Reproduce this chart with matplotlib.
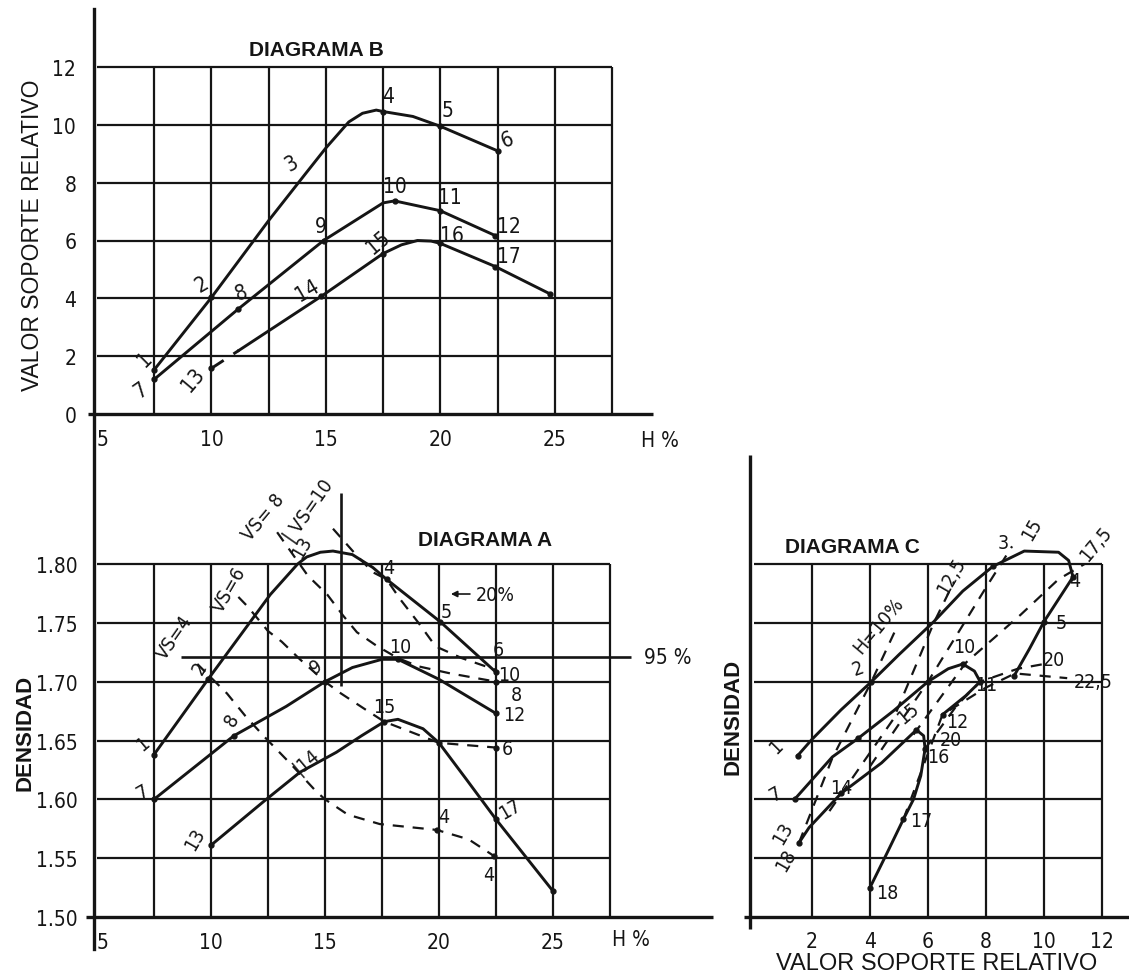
import matplotlib

matplotlib.use("Agg")
import matplotlib.pyplot as plt
from matplotlib import font_manager
from matplotlib.lines import Line2D

W, H = 1129, 979

# ---- Diagrama B: humedad H% vs valor soporte relativo ----
b_hum_1 = [7.5, 10.0, 12.5, 14.1, 15.0, 16.0, 16.6, 17.2, 17.5, 18.8, 20.0, 22.5]
b_vs_1 = [1.53, 4.03, 6.69, 8.3, 9.2, 10.1, 10.4, 10.51, 10.46, 10.29, 9.95, 9.1]
b_hum_2 = [7.5, 11.17, 14.9, 17.5, 18.0, 20.0, 22.4]
b_vs_2 = [1.2, 3.63, 6.0, 7.3, 7.37, 7.03, 6.17]
b_hum_3 = [10.0, 11.2, 14.8, 17.5, 18.3, 19.0, 19.6, 20.0, 22.4, 24.8]
b_vs_3 = [1.58, 2.2, 4.07, 5.55, 5.85, 6.0, 5.98, 5.9, 5.1, 4.15]

# ---- Diagrama A: humedad H% vs densidad ----
a_hum_1 = [7.5, 9.87, 12.6, 13.8, 14.2, 14.8, 15.35, 16.2, 17.1, 17.7, 20.05, 22.5]
a_den_1 = [1.638, 1.702, 1.774, 1.800, 1.806, 1.810, 1.811, 1.808, 1.797, 1.787, 1.751, 1.708]
a_hum_2 = [7.5, 11.0, 13.3, 15.0, 16.2, 17.5, 18.2, 20.0, 22.5]
a_den_2 = [1.600, 1.654, 1.679, 1.700, 1.712, 1.719, 1.719, 1.702, 1.673]
a_hum_3 = [10.0, 12.3, 13.9, 15.5, 16.6, 17.6, 18.2, 19.3, 20.0, 21.2, 22.5, 25.0]
a_den_3 = [1.561, 1.598, 1.623, 1.640, 1.654, 1.666, 1.668, 1.660, 1.648, 1.617, 1.583, 1.522]

# lineas de igual valor soporte (trazos)
a_vs4_hum = [9.4, 10.7, 11.5, 12.3, 13.5, 14.6, 15.0, 16.0, 17.4, 19.9, 21.3, 22.4]
a_vs4_den = [1.715, 1.690, 1.671, 1.654, 1.630, 1.607, 1.600, 1.587, 1.579, 1.574, 1.566, 1.552]
a_vs6_hum = [11.2, 11.6, 12.5, 13.1, 13.9, 15.0, 15.7, 16.8, 17.6, 18.8, 20.0, 22.5]
a_vs6_den = [1.772, 1.764, 1.743, 1.734, 1.719, 1.700, 1.690, 1.676, 1.666, 1.657, 1.648, 1.644]
a_vs8_hum = [12.9, 14.25, 15.1, 15.8, 16.4, 17.3, 18.2, 19.1, 20.5, 22.5]
a_vs8_den = [1.827, 1.790, 1.774, 1.756, 1.742, 1.730, 1.720, 1.713, 1.707, 1.700]
a_vs10_hum = [15.35, 16.4, 17.1, 17.7, 18.3, 19.1, 19.85, 21.0, 22.5]
a_vs10_den = [1.830, 1.807, 1.793, 1.787, 1.770, 1.750, 1.730, 1.720, 1.710]
a_line_95 = 1.721
a_line_opt = 15.7

# ---- Diagrama C: valor soporte relativo vs densidad ----
c_vs_1 = [1.5, 2.0, 3.0, 4.05, 5.0, 6.2, 7.2, 8.24, 9.32, 10.5, 10.85, 11.0, 10.5, 10.0, 9.5, 8.97]
c_den_1 = [1.637, 1.651, 1.676, 1.700, 1.723, 1.751, 1.777, 1.798, 1.811, 1.810, 1.803, 1.789,
           1.770, 1.751, 1.728, 1.705]
c_vs_2 = [1.4, 2.7, 3.6, 4.8, 6.0, 6.7, 7.2, 7.6, 7.8, 7.3, 6.8, 6.5]
c_den_2 = [1.600, 1.636, 1.652, 1.675, 1.700, 1.711, 1.715, 1.709, 1.700, 1.688, 1.678, 1.672]
c_vs_3 = [1.55, 1.9, 3.0, 4.4, 5.0, 5.6, 5.85, 5.9, 5.75, 5.5, 5.15, 4.6, 4.0]
c_den_3 = [1.563, 1.576, 1.605, 1.631, 1.645, 1.659, 1.654, 1.643, 1.620, 1.600, 1.583, 1.555, 1.525]

# lineas de igual humedad (trazos)
c_h10_vs = [1.55, 2.7, 4.05, 4.9]
c_h10_den = [1.563, 1.635, 1.700, 1.745]
c_h125_vs = [2.6, 4.8, 6.2, 6.9]
c_h125_den = [1.590, 1.668, 1.750, 1.785]
c_h15_vs = [4.0, 6.0, 8.0, 8.9]
c_h15_den = [1.628, 1.700, 1.780, 1.815]
c_h175_vs = [5.5, 7.3, 9.2, 10.5, 11.4]
c_h175_den = [1.655, 1.716, 1.757, 1.787, 1.800]
c_h20_vs = [5.9, 7.0, 7.8, 9.1, 10.0]
c_h20_den = [1.643, 1.680, 1.700, 1.711, 1.715]
c_h225_vs = [5.15, 6.5, 8.0, 9.0, 10.8]
c_h225_den = [1.583, 1.672, 1.695, 1.707, 1.703]

INK = "#151515"
DASH = (0, (5, 4))

# narrow hand-lettered numerals: use a narrow face when one is installed
_faces = {(f.name, f.stretch) for f in font_manager.fontManager.ttflist}
if any(name == "Liberation Sans Narrow" for name, _ in _faces):
    NUM = dict(family="Liberation Sans Narrow")
elif ("DejaVu Sans", "condensed") in _faces or ("DejaVu Sans", 300) in _faces:
    NUM = dict(family="DejaVu Sans", stretch="condensed")
else:
    NUM = dict(family="Liberation Sans")
BOLD = dict(family="Liberation Sans", weight="bold")

fig = plt.figure(figsize=(W / 100, H / 100), dpi=100)
fig.patch.set_facecolor("white")


def axes_px(left, top, right, bottom):
    return fig.add_axes([left / W, 1 - bottom / H, (right - left) / W, (bottom - top) / H])


def fig_text(x, y, s, **kw):
    fig.text(x / W, 1 - y / H, s, color=INK, ha="center", va="center", **kw)


def paper(ax, xlim, ylim, xgrid, ygrid):
    ax.set_xlim(*xlim)
    ax.set_ylim(*ylim)
    ax.patch.set_alpha(0)
    for spine in ax.spines.values():
        spine.set_visible(False)
    ax.vlines(xgrid, ylim[0], ylim[1], color=INK, lw=1.6, clip_on=False)
    ax.hlines(ygrid, xlim[0], xlim[1], color=INK, lw=1.6, clip_on=False)
    ax.tick_params(which="both", length=0, labelsize=15, colors=INK)


def labels(ax, items, size=14):
    for s, x, y, rot in items:
        ax.text(x, y, s, fontsize=size, rotation=rot, ha="center", va="center",
                color=INK, clip_on=False, **NUM)


# long left spine shared by diagrams B and A
fig.add_artist(Line2D([94 / W, 94 / W], [1 - 10 / H, 1 - 950 / H], color=INK, lw=2.4))

# ================= Diagrama B =================
ax_b = axes_px(97, 68, 612, 415)
paper(ax_b, (5, 27.5), (0, 12), [7.5, 10, 12.5, 15, 17.5, 20, 22.5, 25, 27.5], [2, 4, 6, 8, 10, 12])
ax_b.hlines(0, 4.6, 29.3, color=INK, lw=2.4, clip_on=False)
ax_b.set_xticks([5, 10, 15, 20, 25])
ax_b.set_xticklabels(["5", "10", "15", "20", "25"], **NUM)
ax_b.set_yticks([0, 2, 4, 6, 8, 10, 12])
ax_b.set_yticklabels(["0", "2", "4", "6", "8", "10", "12"], **NUM)
ax_b.tick_params(axis="x", pad=11)
ax_b.tick_params(axis="y", pad=15)
ax_b.get_xticklabels()[0].set_ha("left")

ax_b.plot(b_hum_1, b_vs_1, color=INK, lw=2.1, marker="o", ms=3.5, markevery=[0, 1, 8, 10, 11])
ax_b.plot(b_hum_2, b_vs_2, color=INK, lw=2.1, marker="o", ms=3.5, markevery=[0, 1, 2, 4, 5, 6])
ax_b.plot(b_hum_3[:2], b_vs_3[:2], color=INK, lw=2.1, ls=DASH, marker="o", ms=3.5, markevery=[0])
ax_b.plot(b_hum_3[1:], b_vs_3[1:], color=INK, lw=2.1, marker="o", ms=3.5, markevery=[1, 2, 6, 7, 8])

labels(ax_b, [
    ("1", 7.1, 1.9, 45), ("7", 6.9, 0.85, 35), ("13", 9.2, 1.2, 50), ("2", 9.6, 4.5, 30),
    ("8", 11.3, 4.2, 20), ("3", 13.5, 8.7, 30), ("9", 14.8, 6.5, 0), ("14", 14.2, 4.3, 30),
    ("15", 17.3, 5.95, 40), ("4", 17.7, 11.0, 0), ("5", 20.3, 10.5, 0), ("6", 22.9, 9.5, 20),
    ("10", 18.0, 7.9, 0), ("11", 20.4, 7.5, 0), ("12", 23.0, 6.5, 0), ("16", 20.5, 6.2, 0),
    ("17", 23.0, 5.45, 0),
], size=15)
ax_b.text(14.6, 12.6, "DIAGRAMA B", fontsize=15, ha="center", va="center", color=INK, **BOLD)
ax_b.text(29.6, -0.9, "H %", fontsize=15, ha="center", va="center", color=INK, **NUM)
fig_text(33, 235, "VALOR SOPORTE RELATIVO", rotation=90, fontsize=16.5, family="Liberation Sans")

# ================= Diagrama A =================
ax_a = axes_px(97, 565, 610, 918)
paper(ax_a, (5, 27.5), (1.50, 1.80), [7.5, 10, 12.5, 15, 17.5, 20, 22.5, 25, 27.5],
      [1.55, 1.60, 1.65, 1.70, 1.75, 1.80])
ax_a.hlines(1.50, 4.5, 32.0, color=INK, lw=2.4, clip_on=False)
ax_a.set_xticks([5, 10, 15, 20, 25])
ax_a.set_xticklabels(["5", "10", "15", "20", "25"], **NUM)
ax_a.set_yticks([1.50, 1.55, 1.60, 1.65, 1.70, 1.75, 1.80])
ax_a.set_yticklabels(["1.50", "1.55", "1.60", "1.65", "1.70", "1.75", "1.80"], **NUM)
ax_a.tick_params(axis="x", pad=11)
ax_a.tick_params(axis="y", pad=14)
ax_a.get_xticklabels()[0].set_ha("left")

ax_a.hlines(a_line_95, 8.7, 28.4, color=INK, lw=1.9, clip_on=False)
ax_a.vlines(a_line_opt, 1.696, 1.86, color=INK, lw=1.9, clip_on=False)

ax_a.plot(a_hum_1, a_den_1, color=INK, lw=2.1, marker="o", ms=3.5, markevery=[0, 1, 9, 10, 11],
          clip_on=False)
ax_a.plot(a_hum_2, a_den_2, color=INK, lw=2.1, marker="o", ms=3.5, markevery=[0, 1, 3, 6, 8],
          clip_on=False)
ax_a.plot(a_hum_3, a_den_3, color=INK, lw=2.1, marker="o", ms=3.5, markevery=[0, 5, 8, 10, 11],
          clip_on=False)
for xs, ys in [(a_vs4_hum, a_vs4_den), (a_vs6_hum, a_vs6_den),
               (a_vs8_hum, a_vs8_den), (a_vs10_hum, a_vs10_den)]:
    ax_a.plot(xs, ys, color=INK, lw=1.6, ls=DASH, clip_on=False)
ax_a.plot([a_vs4_hum[-1], a_vs4_hum[-3], a_vs6_hum[-1], a_vs8_hum[-1]],
          [a_vs4_den[-1], a_vs4_den[-3], a_vs6_den[-1], a_vs8_den[-1]],
          ls="none", marker="o", ms=3.5, color=INK)

labels(ax_a, [
    ("VS=4", 8.4, 1.738, 55), ("VS=6", 10.8, 1.779, 60), ("VS= 8", 12.3, 1.840, 50),
    ("| VS=10", 14.3, 1.846, 55),
    ("1", 7.0, 1.648, 40), ("2", 9.5, 1.712, 60), ("13", 14.0, 1.815, 60), ("4", 17.8, 1.797, 0),
    ("5", 20.3, 1.760, 0), ("6", 22.6, 1.727, 0), ("10", 23.1, 1.706, 0), ("8", 23.4, 1.689, 0),
    ("12", 23.3, 1.672, 0), ("6", 23.0, 1.643, 0), ("4", 20.2, 1.585, 0), ("4", 22.2, 1.536, 0),
    ("17", 23.1, 1.592, 30), ("7", 7.0, 1.607, 30), ("8", 10.9, 1.668, 60), ("9", 14.6, 1.713, 30),
    ("10", 18.3, 1.730, 0), ("15", 17.6, 1.679, 0), ("13", 9.3, 1.567, 60), ("|14", 14.2, 1.633, 40),
], size=14)
ax_a.annotate("20%", xy=(20.4, 1.7745), xytext=(21.6, 1.7745), fontsize=14, color=INK,
              ha="left", va="center", **NUM,
              arrowprops=dict(arrowstyle="-|>", color=INK, lw=1.2, mutation_scale=9))
ax_a.text(29.0, a_line_95, "95 %", fontsize=15, ha="left", va="center", color=INK, **NUM)
ax_a.text(22.0, 1.821, "DIAGRAMA A", fontsize=15, ha="center", va="center", color=INK, **BOLD)
ax_a.text(28.4, 1.481, "H %", fontsize=15, ha="center", va="center", color=INK, **NUM)
fig_text(25, 733, "DENSIDAD", rotation=90, fontsize=16, **BOLD)

# ================= Diagrama C =================
ax_c = axes_px(754, 565, 1102, 918)
paper(ax_c, (0, 12), (1.50, 1.80), [2, 4, 6, 8, 10, 12], [1.55, 1.60, 1.65, 1.70, 1.75, 1.80])
ax_c.hlines(1.50, -0.35, 13.05, color=INK, lw=2.4, clip_on=False)
ax_c.vlines(-0.15, 1.49, 1.893, color=INK, lw=2.4, clip_on=False)
ax_c.set_xticks([2, 4, 6, 8, 10, 12])
ax_c.set_xticklabels(["2", "4", "6", "8", "10", "12"], **NUM)
ax_c.set_yticks([])
ax_c.tick_params(axis="x", pad=10)

ax_c.plot(c_vs_1, c_den_1, color=INK, lw=2.1, marker="o", ms=3.5, markevery=[0, 3, 7, 11, 13, 15],
          clip_on=False)
ax_c.plot(c_vs_2, c_den_2, color=INK, lw=2.1, marker="o", ms=3.5, markevery=[0, 2, 4, 6, 8, 11],
          clip_on=False)
ax_c.plot(c_vs_3, c_den_3, color=INK, lw=2.1, marker="o", ms=3.5, markevery=[0, 2, 5, 7, 10, 12],
          clip_on=False)
for xs, ys in [(c_h10_vs, c_h10_den), (c_h125_vs, c_h125_den), (c_h15_vs, c_h15_den),
               (c_h175_vs, c_h175_den), (c_h20_vs, c_h20_den), (c_h225_vs, c_h225_den)]:
    ax_c.plot(xs, ys, color=INK, lw=1.6, ls=DASH, clip_on=False)

labels(ax_c, [
    ("1", 0.75, 1.645, 45), ("7", 0.75, 1.605, 30), ("13", 1.0, 1.572, 60), ("18", 1.1, 1.549, 60),
    ("2", 3.6, 1.712, 20), ("3", 8.6, 1.818, 0), ("15", 9.6, 1.830, 60), ("17,5", 11.8, 1.818, 50),
    ("12,5", 6.8, 1.790, 60), ("H=10%", 4.3, 1.748, 50), ("4", 11.05, 1.786, 0),
    ("5", 10.6, 1.750, 0), ("20", 10.35, 1.719, 0), ("22,5", 11.7, 1.700, 0), ("10", 7.25, 1.730, 0),
    ("12", 7.0, 1.666, 0), ("20", 6.8, 1.651, 0), ("16", 6.35, 1.636, 0), ("17", 5.75, 1.582, 0),
    ("18", 4.6, 1.521, 0), ("15", 5.3, 1.674, 40), ("14", 3.0, 1.610, 0), ("11", 8.0, 1.698, 0),
], size=14)
ax_c.text(3.4, 1.815, "DIAGRAMA C", fontsize=15, ha="center", va="center", color=INK, **BOLD)
fig_text(733, 717, "DENSIDAD", rotation=90, fontsize=16, **BOLD)
fig_text(937, 964, "VALOR SOPORTE RELATIVO", fontsize=17, family="Liberation Sans")

fig.savefig("out.png", dpi=100, facecolor="white")
